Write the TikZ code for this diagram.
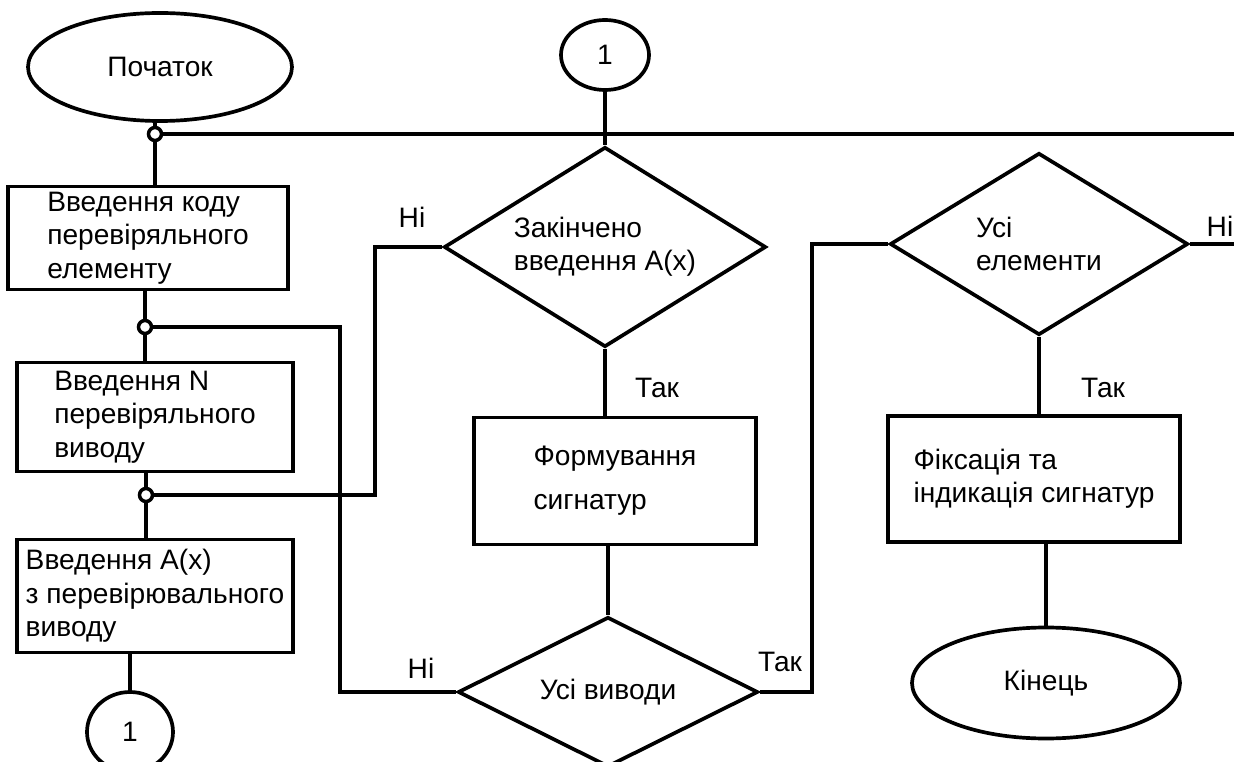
\documentclass[tikz,border=0pt]{standalone}
\usepackage{fontspec}
\setmainfont{Liberation Sans}
\usepackage{tikz}
\usetikzlibrary{shapes.geometric, positioning}
\tikzstyle{terminal} = [ellipse, draw, line width=2.1pt, inner sep=0pt]
\tikzstyle{process} = [rectangle, draw, line width=2.1pt, align=left, inner sep=0pt]
\tikzstyle{decision} = [diamond, draw, line width=2.1pt, aspect=1.6, inner sep=0pt, align=left]
\tikzstyle{link} = [line width=2.1pt]
\tikzstyle{joint} = [circle, draw, line width=2pt, fill=white, minimum size=2.6mm, inner sep=0pt]
\tikzstyle{lbl} = [inner sep=0pt]

\begin{document}
\begin{tikzpicture}[x=0.2mm, y=-0.2mm, font=\fontsize{16}{19}\selectfont]
\clip (0,0) rectangle (1234,762);

% Left column: input steps
\node[terminal, minimum width=52.8mm, minimum height=21.6mm] (start) at (160,67) {Початок};
\node[process, minimum width=56mm, minimum height=20.6mm] (code) at (148,238) {Введення коду\\перевіряльного\\елементу};
\node[process, minimum width=55.2mm, minimum height=21.8mm] (pin) at (155,417) {Введення N\\перевіряльного\\виводу};
\node[process, minimum width=55.2mm, minimum height=22.6mm] (ax) at (155,596) {Введення A(x)\\з перевірювального\\виводу};
\node[terminal, minimum width=17.2mm, minimum height=16mm] (goA) at (130,732) {1};

% Middle column: signatures
\node[terminal, minimum width=17.6mm, minimum height=14mm] (goB) at (605,55) {1};
\node[decision, minimum width=64.4mm, minimum height=40mm] (done) at (605,247) {Закінчено\\введення A(x)};
\node[process, minimum width=56.4mm, minimum height=25.4mm] (sig) at (615,481) {Формування\\[6pt]сигнатур};
\node[decision, minimum width=60mm, minimum height=30mm] (pins) at (608,692) {Усі виводи};

% Right column: result
\node[decision, minimum width=59.6mm, minimum height=36.4mm] (elems) at (1039,244) {Усі\\елементи};
\node[process, minimum width=58.4mm, minimum height=25.2mm] (fix) at (1034,479) {Фіксація та\\індикація сигнатур};
\node[terminal, minimum width=53.6mm, minimum height=22.2mm] (stop) at (1046,683) {Кінець};

% junctions and bends
\coordinate (j1) at (155,134);
\coordinate (j2) at (145,327);
\coordinate (j3) at (146,495);
\coordinate (busR) at (1234,134);
\coordinate (loopA) at (340,692);
\coordinate (loopB) at (375,247);
\coordinate (loopC) at (812,244);
\coordinate (outR) at (1234,244);

% Connectors
\draw[link] (start.south -| j1) -- (code.north -| j1);
\draw[link] (j1) -- (busR);
\draw[link] (code.south -| j2) -- (pin.north -| j2);
\draw[link] (pin.south -| j3) -- (ax.north -| j3);
\draw[link] (ax.south -| goA) -- (goA.north);
\draw[link] (j2) -| (loopA) -- (pins.west);
\draw[link] (j3) -| (loopB) -- (done.west);
\draw[link] (goB.south) -- (done.north);
\draw[link] (done.south) -- (done.south |- sig.north);
\draw[link] (sig.south -| pins.north) -- (pins.north);
\draw[link] (pins.east) -| (loopC) -- (elems.west);
\draw[link] (elems.east) -- (outR);
\draw[link] (elems.south) -- (elems.south |- fix.north);
\draw[link] (fix.south -| stop.north) -- (stop.north);

\node[joint] (dot1) at (j1) {};
\node[joint] (dot2) at (j2) {};
\node[joint] (dot3) at (j3) {};

% Branch labels
\node[lbl] (no1) at (412,217) {Ні};
\node[lbl] (no2) at (421,668) {Ні};
\node[lbl] (yes1) at (657,388) {Так};
\node[lbl] (yes2) at (780,662) {Так};
\node[lbl] (yes3) at (1103,388) {Так};
\node[lbl] (no3) at (1220,226) {Ні};
\end{tikzpicture}
\end{document}
